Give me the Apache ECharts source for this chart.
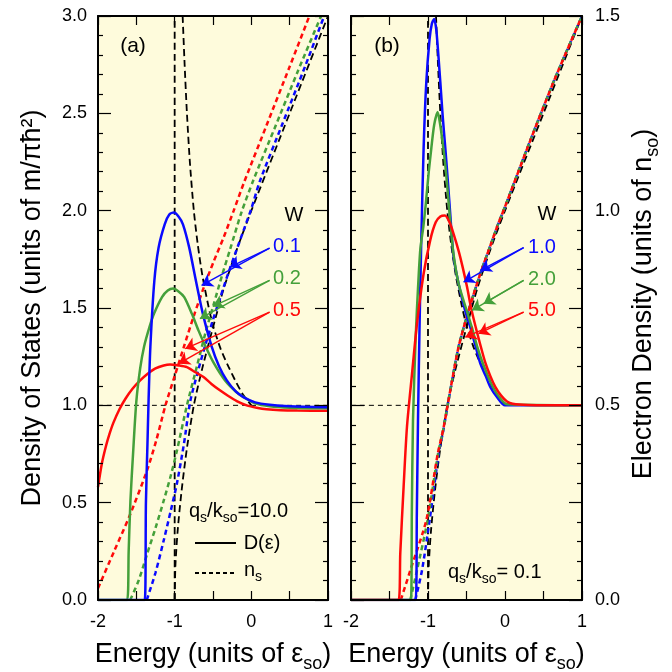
<!DOCTYPE html>
<html>
<head>
<meta charset="utf-8">
<script src="https://cdn.jsdelivr.net/npm/echarts@6/dist/echarts.min.js"></script>
<style>
  html, body { margin: 0; background: #fff; }
  #chart { width: 672px; height: 672px; }
</style>
</head>
<body>
<div id="chart"></div>
<script>
// energy in units of eps_so, D in units of m/(pi hbar^2), n_s in units of n_so

// clean reference (black dashed), same in both panels
const cleanDos = [[-0.896, 3.0], [-0.87, 2.75], [-0.84, 2.5], [-0.8, 2.24], [-0.75, 2.0], [-0.7, 1.83],
  [-0.64, 1.67], [-0.56, 1.51], [-0.5, 1.41], [-0.4, 1.29], [-0.3, 1.2], [-0.2, 1.12], [-0.1, 1.05], [0, 1.0]];
const cleanEdge = [[-1, 0], [-1, 3]];
const unitLevel = [[-2, 1], [1, 1]];
const cleanDensity = [[-1, 0], [-0.99, 0.09], [-0.96, 0.18], [-0.91, 0.28], [-0.84, 0.39], [-0.75, 0.5],
  [-0.64, 0.595], [-0.5, 0.7], [-0.36, 0.8], [-0.19, 0.9], [0, 1.0], [0.5, 1.25], [1, 1.5]];

// panel (a), q_s/k_so = 10.0, W = 0.1, 0.2, 0.5
const aDosW01 = [[-2, 0], [-1.39, 0], [-1.375, 0.5], [-1.355, 0.8], [-1.34, 1.03], [-1.317, 1.3], [-1.265, 1.64],
  [-1.21, 1.81], [-1.13, 1.93], [-1.07, 1.98], [-1.01, 1.99], [-0.95, 1.97], [-0.892, 1.93], [-0.81, 1.81],
  [-0.723, 1.64], [-0.632, 1.47], [-0.516, 1.3], [-0.42, 1.2], [-0.32, 1.128], [-0.2, 1.07], [-0.104, 1.042],
  [0.05, 1.015], [0.24, 1.003], [0.5, 0.995], [1, 0.99]];
const aDosW02 = [[-2, 0], [-1.62, 0], [-1.6, 0.25], [-1.577, 0.51], [-1.54, 0.77], [-1.5, 1.02], [-1.45, 1.19],
  [-1.4, 1.3], [-1.33, 1.4], [-1.27, 1.47], [-1.165, 1.556], [-1.09, 1.59], [-1.02, 1.6], [-0.95, 1.585],
  [-0.875, 1.556], [-0.775, 1.47], [-0.69, 1.385], [-0.594, 1.3], [-0.485, 1.214], [-0.343, 1.128],
  [-0.2, 1.07], [-0.1, 1.042], [0.05, 1.01], [0.24, 0.995], [0.5, 0.988], [1, 0.985]];
const aDosW05 = [[-2, 0.58], [-1.95, 0.7], [-1.9, 0.785], [-1.85, 0.853], [-1.8, 0.91], [-1.72, 0.98],
  [-1.64, 1.035], [-1.55, 1.085], [-1.45, 1.128], [-1.36, 1.16], [-1.25, 1.19], [-1.143, 1.205], [-1.06, 1.21],
  [-0.95, 1.205], [-0.84, 1.196], [-0.73, 1.17], [-0.623, 1.145], [-0.52, 1.11], [-0.41, 1.077], [-0.3, 1.048],
  [-0.19, 1.022], [-0.06, 1.0], [0.07, 0.988], [0.2, 0.98], [0.38, 0.975], [0.6, 0.973], [1, 0.972]];
const aDenW01 = [[-1.364, 0], [-1.25, 0.07], [-1.143, 0.153], [-1.05, 0.23], [-0.97, 0.3], [-0.88, 0.4],
  [-0.797, 0.51], [-0.7, 0.585], [-0.6, 0.655], [-0.5, 0.72], [-0.4, 0.78], [-0.3, 0.84], [-0.2, 0.895],
  [-0.1, 0.95], [0, 1.005], [0.11, 1.075], [0.4, 1.22], [0.7, 1.37], [0.95, 1.5]];
const aDenW02 = [[-1.58, 0], [-1.47, 0.05], [-1.36, 0.118], [-1.25, 0.185], [-1.143, 0.255], [-1.05, 0.32],
  [-0.97, 0.384], [-0.84, 0.5], [-0.71, 0.6], [-0.6, 0.685], [-0.49, 0.76], [-0.38, 0.835], [-0.278, 0.9],
  [-0.13, 0.995], [0.026, 1.078], [0.3, 1.21], [0.6, 1.355], [0.91, 1.5]];
const aDenW05 = [[-2, 0.03], [-1.79, 0.125], [-1.58, 0.22], [-1.36, 0.333], [-1.24, 0.41], [-1.12, 0.5],
  [-1.0, 0.575], [-0.88, 0.65], [-0.75, 0.73], [-0.62, 0.803], [-0.49, 0.87], [-0.36, 0.932], [-0.23, 1.0],
  [-0.1, 1.07], [0.2, 1.22], [0.5, 1.37], [0.757, 1.5]];

// panel (b), q_s/k_so = 0.1, W = 1.0, 2.0, 5.0
const bDosW1 = [[-2, 0], [-1.16, 0], [-1.145, 0.45], [-1.13, 0.92], [-1.11, 1.4], [-1.09, 1.8], [-1.057, 2.32],
  [-1.022, 2.66], [-0.98, 2.88], [-0.95, 2.96], [-0.92, 2.985], [-0.89, 2.92], [-0.84, 2.66], [-0.81, 2.49],
  [-0.775, 2.32], [-0.74, 2.14], [-0.71, 1.976], [-0.667, 1.76], [-0.6, 1.62], [-0.52, 1.49], [-0.45, 1.4],
  [-0.38, 1.3], [-0.32, 1.214], [-0.25, 1.15], [-0.19, 1.093], [-0.1, 1.04], [0, 1.0], [1, 1.0]];
const bDosW2 = [[-2, 0], [-1.222, 0], [-1.21, 0.45], [-1.195, 0.92], [-1.16, 1.35], [-1.13, 1.6], [-1.1, 1.8],
  [-1.06, 1.92], [-1.03, 2.03], [-0.99, 2.2], [-0.957, 2.32], [-0.92, 2.44], [-0.875, 2.507], [-0.845, 2.45],
  [-0.81, 2.35], [-0.775, 2.233], [-0.74, 2.08], [-0.71, 1.94], [-0.67, 1.78], [-0.6, 1.62], [-0.5, 1.49],
  [-0.43, 1.4], [-0.36, 1.3], [-0.286, 1.214], [-0.156, 1.093], [-0.05, 1.03], [0.03, 1.005], [1, 1.0]];
const bDosW5 = [[-2, 0], [-1.382, 0], [-1.36, 0.24], [-1.317, 0.58], [-1.273, 0.89], [-1.208, 1.16],
  [-1.143, 1.42], [-1.057, 1.676], [-0.97, 1.85], [-0.9, 1.94], [-0.84, 1.97], [-0.78, 1.975], [-0.72, 1.94],
  [-0.667, 1.88], [-0.6, 1.79], [-0.55, 1.71], [-0.494, 1.61], [-0.44, 1.5], [-0.386, 1.41], [-0.32, 1.31],
  [-0.26, 1.225], [-0.19, 1.15], [-0.126, 1.095], [-0.05, 1.05], [0.026, 1.02], [0.1, 1.008], [0.3, 1.002],
  [1, 1.0]];
const bDenW1 = [[-1.165, 0], [-1.078, 0.076], [-0.979, 0.205], [-0.862, 0.375], [-0.797, 0.44], [-0.7, 0.55],
  [-0.603, 0.65], [-0.5, 0.725], [-0.408, 0.785], [-0.3, 0.85], [-0.19, 0.91], [-0.1, 0.96], [0, 1.01],
  [0.328, 1.18], [0.65, 1.34], [1, 1.5]];
const bDenW2 = [[-1.23, 0], [-1.143, 0.076], [-1.005, 0.205], [-0.87, 0.375], [-0.8, 0.44], [-0.7, 0.55],
  [-0.603, 0.65], [-0.5, 0.725], [-0.408, 0.785], [-0.3, 0.85], [-0.19, 0.91], [-0.1, 0.96], [0, 1.01],
  [0.328, 1.18], [0.65, 1.34], [1, 1.5]];
const bDenW5 = [[-1.353, 0], [-1.23, 0.076], [-1.022, 0.205], [-0.874, 0.375], [-0.8, 0.44], [-0.7, 0.55],
  [-0.603, 0.65], [-0.5, 0.725], [-0.408, 0.785], [-0.3, 0.85], [-0.19, 0.91], [-0.1, 0.96], [0, 1.01],
  [0.328, 1.18], [0.65, 1.34], [1, 1.5]];

const FONT = '"Liberation Sans", Arial, sans-serif';
const BLUE = '#0a0aff', GREEN = '#44a03a', RED = '#ff0a0a', BG = '#fefbdc';

const chart = echarts.init(document.getElementById('chart'), null, { renderer: 'canvas' });

// axis indices: x 0/1 = panel a bottom/top, x 2/3 = panel b bottom/top
//               y 0/1 = panel a left(D)/right(n), y 2/3 = panel b left(D)/right(n)
function curve(data, xi, yi, color, width, type, z) {
  return {
    type: 'line', data: data, xAxisIndex: xi, yAxisIndex: yi,
    symbol: 'none', smooth: 0.25, silent: true, z: z || 3,
    lineStyle: { color: color, width: width, type: type || 'solid' }
  };
}

function xAxisFor(grid, top) {
  return {
    type: 'value', gridIndex: grid, min: -2, max: 1, interval: 0.5, z: 8,
    position: top ? 'top' : 'bottom',
    axisLine: { show: true, onZero: false, lineStyle: { color: '#000', width: 2 } },
    axisTick: { show: true, inside: true, length: 9, lineStyle: { color: '#000', width: 1.2 } },
    axisLabel: {
      show: !top, margin: 13, color: '#000', fontSize: 18, fontFamily: FONT,
      formatter: v => Number.isInteger(v) ? String(v) : ''
    },
    splitLine: { show: false }
  };
}

function yAxisFor(grid, right, max, step, labels) {
  return {
    type: 'value', gridIndex: grid, min: 0, max: max, interval: step, z: 8,
    position: right ? 'right' : 'left',
    axisLine: { show: true, onZero: false, lineStyle: { color: '#000', width: 2 } },
    axisTick: { show: true, inside: true, length: 13, lineStyle: { color: '#000', width: 1.2 } },
    minorTick: { show: true, splitNumber: 5, length: 5, lineStyle: { color: '#000', width: 1.2 } },
    axisLabel: {
      show: labels, margin: right ? 13 : 11, color: '#000', fontSize: 18, fontFamily: FONT,
      formatter: v => Math.abs(v * 2 - Math.round(v * 2)) < 1e-6 ? v.toFixed(1) : ''
    },
    splitLine: { show: false }
  };
}

const richTitle = {
  n: { fontSize: 27, fontFamily: FONT, color: '#000', fill: '#000', lineHeight: 36, verticalAlign: 'middle' },
  s: { fontSize: 18, fontFamily: FONT, color: '#000', fill: '#000', verticalAlign: 'bottom' }
};

function arrows(xi, yi, color, list) {
  return {
    type: 'line', data: [], xAxisIndex: xi, yAxisIndex: yi, silent: true, z: 6,
    markLine: {
      silent: true, symbol: ['none', 'arrow'], symbolSize: 11, animation: false,
      label: { show: false },
      lineStyle: { color: color, width: 1.4, type: 'solid' },
      data: list.map(p => [{ coord: p[0] }, { coord: p[1] }])
    }
  };
}

function label(x, y, text, color, size) {
  return {
    type: 'text', x: x, y: y, z: 10,
    style: { text: text, fill: color, font: size + 'px ' + FONT, textAlign: 'center', textVerticalAlign: 'middle' }
  };
}

function subText(x, y, text) {
  return {
    type: 'text', x: x, y: y, z: 10,
    style: {
      text: text, textAlign: 'left', textVerticalAlign: 'middle',
      rich: {
        n: { fontSize: 20, fontFamily: FONT, fill: '#000', lineHeight: 28, verticalAlign: 'middle' },
        s: { fontSize: 14, fontFamily: FONT, fill: '#000', verticalAlign: 'bottom' }
      }
    }
  };
}

const option = {
  animation: false,
  backgroundColor: '#fff',
  grid: [
    { left: 98, top: 16, width: 230, height: 584, show: true, backgroundColor: BG, borderWidth: 0, z: 0,
      containLabel: false, outerBoundsMode: 'none' },
    { left: 351, top: 16, width: 231, height: 584, show: true, backgroundColor: BG, borderWidth: 0, z: 0,
      containLabel: false, outerBoundsMode: 'none' }
  ],
  xAxis: [
    Object.assign(xAxisFor(0, false), {
      name: '{n|Energy (units of ε}{s|so}{n|)}', nameLocation: 'middle', nameGap: 37,
      nameTextStyle: { rich: richTitle }
    }),
    xAxisFor(0, true),
    Object.assign(xAxisFor(1, false), {
      name: '{n|Energy (units of ε}{s|so}{n|)}', nameLocation: 'middle', nameGap: 37,
      nameTextStyle: { rich: richTitle }
    }),
    xAxisFor(1, true)
  ],
  yAxis: [
    Object.assign(yAxisFor(0, false, 3, 0.5, true), {
      name: '{n|Density of States (units of m/πħ²)}', nameLocation: 'middle', nameGap: 47, nameRotate: 90,
      nameTextStyle: { rich: richTitle }
    }),
    yAxisFor(0, true, 1.5, 0.25, false),
    yAxisFor(1, false, 3, 0.5, false),
    yAxisFor(1, true, 1.5, 0.25, true)
  ],
  series: [
    // panel (a)
    curve(unitLevel, 0, 0, '#000', 1, [5, 4], 2),
    curve(cleanEdge, 0, 0, '#000', 1.8, [7, 4], 2),
    curve(cleanDos, 0, 0, '#000', 1.8, [7, 4], 2),
    curve(cleanDensity, 0, 1, '#000', 1.8, [7, 4], 2),
    curve(aDenW01, 0, 1, BLUE, 2.5, [5, 3.5]),
    curve(aDenW02, 0, 1, GREEN, 2.5, [5, 3.5]),
    curve(aDenW05, 0, 1, RED, 2.5, [5, 3.5]),
    curve(aDosW05, 0, 0, RED, 2.5),
    curve(aDosW02, 0, 0, GREEN, 2.5),
    curve(aDosW01, 0, 0, BLUE, 2.5),
    // panel (b)
    curve(unitLevel, 2, 2, '#000', 1, [5, 4], 2),
    curve(cleanEdge, 2, 2, '#000', 1.8, [7, 4], 2),
    curve(cleanDos, 2, 2, '#000', 1.8, [7, 4], 2),
    curve(cleanDensity, 2, 3, '#000', 1.8, [7, 4], 2),
    curve(bDenW1, 2, 3, BLUE, 2.5, [5, 3.5]),
    curve(bDenW2, 2, 3, GREEN, 2.5, [5, 3.5]),
    curve(bDenW5, 2, 3, RED, 2.5, [5, 3.5]),
    curve(bDosW1, 2, 2, BLUE, 2.5),
    curve(bDosW2, 2, 2, GREEN, 2.5),
    curve(bDosW5, 2, 2, RED, 2.5),
    // arrows from the W labels to the curves
    arrows(0, 0, BLUE, [[[0.238, 1.808], [-0.282, 1.71]], [[0.238, 1.808], [-0.649, 1.616]]]),
    arrows(0, 0, GREEN, [[[0.238, 1.642], [-0.503, 1.508]], [[0.238, 1.642], [-0.671, 1.445]]]),
    arrows(0, 0, RED, [[[0.238, 1.479], [-0.862, 1.291]], [[0.238, 1.479], [-0.948, 1.214]]]),
    arrows(2, 2, BLUE, [[[0.242, 1.81], [-0.321, 1.693]], [[0.242, 1.81], [-0.538, 1.633]]]),
    arrows(2, 2, GREEN, [[[0.242, 1.642], [-0.278, 1.522]], [[0.242, 1.642], [-0.429, 1.488]]]),
    arrows(2, 2, RED, [[[0.242, 1.479], [-0.343, 1.368]], [[0.242, 1.479], [-0.516, 1.35]]])
  ],
  graphic: [
    {
      type: 'text', x: 644, y: 304, rotation: Math.PI / 2, z: 10,
      style: {
        text: '{n|Electron Density (units of n}{s|so}{n|)}', rich: richTitle,
        textAlign: 'center', textVerticalAlign: 'middle'
      }
    },
    label(133, 46, '(a)', '#000', 21),
    label(387, 46, '(b)', '#000', 21),
    label(294, 215, 'W', '#000', 20),
    label(287, 246, '0.1', BLUE, 20),
    label(287, 278, '0.2', GREEN, 20),
    label(287, 310, '0.5', RED, 20),
    label(547, 214, 'W', '#000', 20),
    label(542, 247, '1.0', BLUE, 20),
    label(542, 279, '2.0', GREEN, 20),
    label(542, 310, '5.0', RED, 20),
    subText(189, 511, '{n|q}{s|s}{n|/k}{s|so}{n|=10.0}'),
    subText(448, 572, '{n|q}{s|s}{n|/k}{s|so}{n|= 0.1}'),
    { type: 'line', z: 10, shape: { x1: 195, y1: 543, x2: 236, y2: 543 }, style: { stroke: '#000', lineWidth: 2 } },
    label(262, 543, 'D(ε)', '#000', 20),
    { type: 'line', z: 10, shape: { x1: 195, y1: 573, x2: 234, y2: 573 }, style: { stroke: '#000', lineWidth: 2, lineDash: [4, 3] } },
    subText(244, 570, '{n|n}{s|s}')
  ]
};

chart.setOption(option);
</script>
</body>
</html>
